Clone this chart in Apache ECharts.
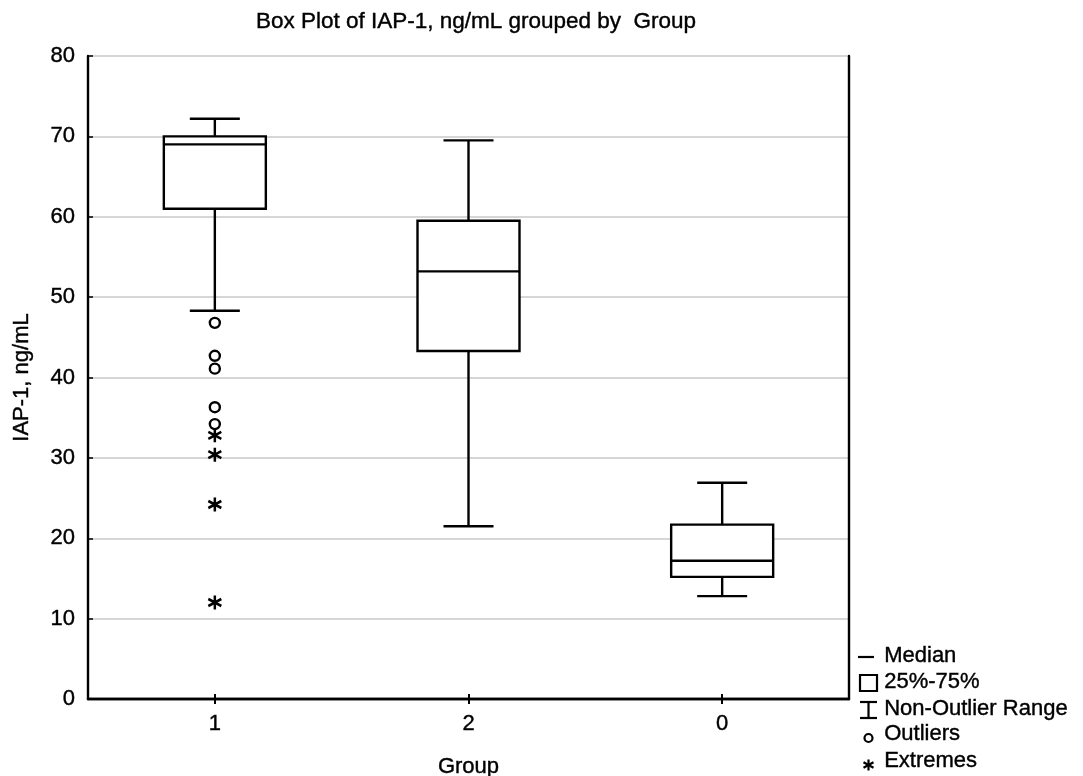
<!DOCTYPE html>
<html>
<head>
<meta charset="utf-8">
<script src="https://cdn.jsdelivr.net/npm/echarts@6/dist/echarts.min.js"></script>
<style>
html,body{margin:0;padding:0;background:#fff;}
#chart{width:1083px;height:776px;}
</style>
</head>
<body>
<div id="chart"></div>
<script>
var titleText = 'Box Plot of IAP-1, ng/mL grouped by  Group';
var categories = ['1', '2', '0'];
var yTicks = [0, 10, 20, 30, 40, 50, 60, 70, 80];
// [low whisker, Q1, median, Q3, high whisker]
var boxStats = [
  [48.3, 61.0, 69.0, 70.0, 72.2],
  [21.5, 43.3, 53.2, 59.5, 69.5],
  [12.8, 15.2, 17.2, 21.7, 26.9]
];
var outliers = [[0, 46.8], [0, 42.7], [0, 41.1], [0, 36.3], [0, 34.2]];
var extremes = [[0, 32.8], [0, 30.4], [0, 24.2], [0, 12.0]];
var legendLabels = ['Median', '25%-75%', 'Non-Outlier Range', 'Outliers', 'Extremes'];

var FONT = '"Liberation Sans", Arial, sans-serif';
var chart = echarts.init(document.getElementById('chart'));

var boxData = boxStats.map(function (s, i) { return [i].concat(s); });

var ASTER = 'path://M0,-6L0,6M-5.2,-3L5.2,3M-5.2,3L5.2,-3';

function renderBox(params, api) {
  var x = api.value(0);
  var pLow = api.coord([x, api.value(1)]);
  var pQ1 = api.coord([x, api.value(2)]);
  var pMed = api.coord([x, api.value(3)]);
  var pQ3 = api.coord([x, api.value(4)]);
  var pHigh = api.coord([x, api.value(5)]);
  var cx = pLow[0];
  var hw = 51, cw = 25;
  var st = { stroke: '#000', lineWidth: 2.4, fill: null };
  return {
    type: 'group',
    children: [
      { type: 'line', shape: { x1: cx, y1: pHigh[1], x2: cx, y2: pQ3[1] }, style: st },
      { type: 'line', shape: { x1: cx, y1: pQ1[1], x2: cx, y2: pLow[1] }, style: st },
      { type: 'line', shape: { x1: cx - cw, y1: pHigh[1], x2: cx + cw, y2: pHigh[1] }, style: st },
      { type: 'line', shape: { x1: cx - cw, y1: pLow[1], x2: cx + cw, y2: pLow[1] }, style: st },
      { type: 'rect', shape: { x: cx - hw, y: pQ3[1], width: hw * 2, height: pQ1[1] - pQ3[1] },
        style: { stroke: '#000', lineWidth: 2.4, fill: '#fff' } },
      { type: 'line', shape: { x1: cx - hw, y1: pMed[1], x2: cx + hw, y2: pMed[1] }, style: st }
    ]
  };
}

var TB = { textBorderColor: '#000', textBorderWidth: 0.4 };

// legend graphics
var lx = 858, lx2 = 876, tx = 884;
var ly = [657, 683, 710, 735, 762];
var lst = { stroke: '#000', lineWidth: 2.2, fill: null };
var graphics = [];
graphics.push({ type: 'line', shape: { x1: lx, y1: ly[0], x2: lx2 - 2, y2: ly[0] }, style: lst });
graphics.push({ type: 'rect', shape: { x: lx + 2, y: ly[1] - 8, width: 17, height: 16 }, style: lst });
graphics.push({ type: 'line', shape: { x1: lx + 10.5, y1: ly[2] - 8, x2: lx + 10.5, y2: ly[2] + 8 }, style: lst });
graphics.push({ type: 'line', shape: { x1: lx + 2, y1: ly[2] - 8, x2: lx + 19, y2: ly[2] - 8 }, style: lst });
graphics.push({ type: 'line', shape: { x1: lx + 2, y1: ly[2] + 8, x2: lx + 19, y2: ly[2] + 8 }, style: lst });
graphics.push({ type: 'circle', shape: { cx: lx + 10.5, cy: ly[3] + 3, r: 4 }, style: { stroke: '#000', lineWidth: 2.2, fill: '#fff' } });
var ax = lx + 10.5, ay = ly[4] + 3;
graphics.push({ type: 'line', shape: { x1: ax, y1: ay - 5.5, x2: ax, y2: ay + 5.5 }, style: lst });
graphics.push({ type: 'line', shape: { x1: ax - 5, y1: ay - 2.8, x2: ax + 5, y2: ay + 2.8 }, style: lst });
graphics.push({ type: 'line', shape: { x1: ax - 5, y1: ay + 2.8, x2: ax + 5, y2: ay - 2.8 }, style: lst });
legendLabels.forEach(function (t, i) {
  graphics.push({ type: 'text', left: tx, top: ly[i] - 12,
    style: { text: t, font: '22px ' + FONT, fill: '#000', stroke: '#000', lineWidth: 0.4 } });
});

var axisLineStyle = { show: true, lineStyle: { color: '#000', width: 2.4 } };

chart.setOption({
  backgroundColor: '#fff',
  animation: false,
  title: {
    text: titleText, left: 471, textAlign: 'center', top: 5,
    textStyle: Object.assign({ fontFamily: FONT, fontSize: 22.5, fontWeight: 'normal', color: '#000' }, TB)
  },
  grid: { left: 88, right: 234, top: 56, bottom: 77, containLabel: false, outerBoundsMode: 'none' },
  xAxis: [{
    type: 'category', data: categories, position: 'bottom',
    name: 'Group', nameLocation: 'middle', nameGap: 57,
    nameTextStyle: Object.assign({ fontFamily: FONT, fontSize: 22, color: '#000' }, TB),
    axisLine: axisLineStyle,
    axisTick: { show: true, inside: true, alignWithLabel: true, length: 5, lineStyle: { color: '#000', width: 2 } },
    axisLabel: Object.assign({ fontFamily: FONT, fontSize: 22, color: '#000', margin: 14 }, TB),
    splitLine: { show: false }
  }, {
    type: 'category', data: categories, position: 'top',
    axisLine: axisLineStyle,
    axisTick: { show: true, inside: true, alignWithLabel: true, length: 5, lineStyle: { color: '#000', width: 2 } },
    axisLabel: { show: false }, splitLine: { show: false }
  }],
  yAxis: [{
    type: 'value', min: 0, max: 80, interval: 10, position: 'left',
    name: 'IAP-1, ng/mL', nameLocation: 'middle', nameGap: 55,
    nameTextStyle: Object.assign({ fontFamily: FONT, fontSize: 22, color: '#000' }, TB),
    axisLine: axisLineStyle,
    axisTick: { show: true, inside: true, length: 5, lineStyle: { color: '#000', width: 1.5 } },
    axisLabel: Object.assign({ fontFamily: FONT, fontSize: 22, color: '#000', margin: 13,
      formatter: function (v) { return yTicks.indexOf(v) >= 0 ? String(v) : ''; } }, TB),
    splitLine: { show: true, lineStyle: { color: '#c8c8c8', width: 1.5 } }
  }, {
    type: 'value', min: 0, max: 80, interval: 10, position: 'right',
    axisLine: axisLineStyle,
    axisTick: { show: false }, axisLabel: { show: false }, splitLine: { show: false }
  }],
  series: [{
    type: 'custom', renderItem: renderBox, data: boxData,
    encode: { x: 0, y: [1, 2, 3, 4, 5] }, z: 3
  }, {
    type: 'scatter', data: outliers, symbol: 'circle', symbolSize: 10,
    itemStyle: { color: '#fff', borderColor: '#000', borderWidth: 2.4, opacity: 1 }, z: 4
  }, {
    type: 'scatter', data: extremes, symbol: ASTER, symbolSize: [13, 14],
    itemStyle: { color: 'rgba(0,0,0,0)', borderColor: '#000', borderWidth: 2.6, opacity: 1 }, z: 4
  }],
  graphic: graphics
});
</script>
</body>
</html>
